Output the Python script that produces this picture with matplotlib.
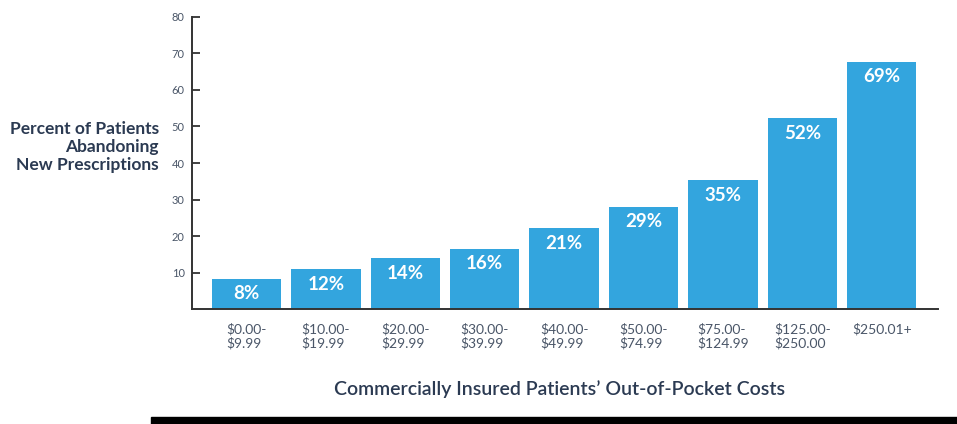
import matplotlib.pyplot as plt
from matplotlib.patches import Rectangle

plt.rcParams["font.family"] = ["Lato", "DejaVu Sans"]

# 数据
categories = ["$0.00-\n$9.99", "$10.00-\n$19.99", "$20.00-\n$29.99",
              "$30.00-\n$39.99", "$40.00-\n$49.99", "$50.00-\n$74.99",
              "$75.00-\n$124.99", "$125.00-\n$250.00", "$250.01+"]
bar_heights = [8.3, 11.0, 13.9, 16.5, 22.2, 28.0, 35.3, 52.2, 67.7]
bar_labels = ["8%", "12%", "14%", "16%", "21%", "29%", "35%", "52%", "69%"]
y_ticks = [10, 20, 30, 40, 50, 60, 70, 80]

BAR_COLOR = "#33a5de"
TEXT_DARK = "#2b3a52"
TICK_GRAY = "#4a5668"

fig = plt.figure(figsize=(9.57, 4.24), dpi=100)
ax = fig.add_axes([0.2003, 0.2705, 0.7799, 0.6901])

x = list(range(len(categories)))
ax.bar(x, bar_heights, width=0.873, color=BAR_COLOR, zorder=2)

for xi, h, lab in zip(x, bar_heights, bar_labels):
    ax.annotate(lab, (xi, h), xytext=(0, -15), textcoords="offset pixels",
                ha="center", va="center", color="white",
                fontsize=13.5, fontweight="bold")

ax.set_xlim(-0.69, 8.71)
ax.set_ylim(0, 80)
ax.set_yticks(y_ticks)
ax.set_yticklabels([str(t) for t in y_ticks], fontsize=8, color=TICK_GRAY)
ax.tick_params(axis="y", direction="in", length=6, width=1.3,
               color="#333333", pad=5)

ax.set_xticks(x)
ax.set_xticklabels(categories, fontsize=10, color=TICK_GRAY,
                   multialignment="left", linespacing=1.12)
ax.tick_params(axis="x", length=0, pad=10)

for side in ("top", "right"):
    ax.spines[side].set_visible(False)
for side in ("left", "bottom"):
    ax.spines[side].set_color("#333333")
    ax.spines[side].set_linewidth(1.4)

fig.text(159 / 957, 1 - 147 / 424,
         "Percent of Patients\nAbandoning\nNew Prescriptions",
         ha="right", va="center", multialignment="right",
         fontsize=12.5, fontweight="bold", color=TEXT_DARK, linespacing=1.15)

fig.text(560 / 957, 1 - 389 / 424,
         "Commercially Insured Patients\u2019 Out-of-Pocket Costs",
         ha="center", va="center", fontsize=14, fontweight="semibold",
         color=TEXT_DARK)

# 底部黑条
fig.patches.append(Rectangle((151 / 957, 0), 1 - 151 / 957, 7 / 424,
                             transform=fig.transFigure, color="black"))

fig.savefig("out.png", dpi=100)
